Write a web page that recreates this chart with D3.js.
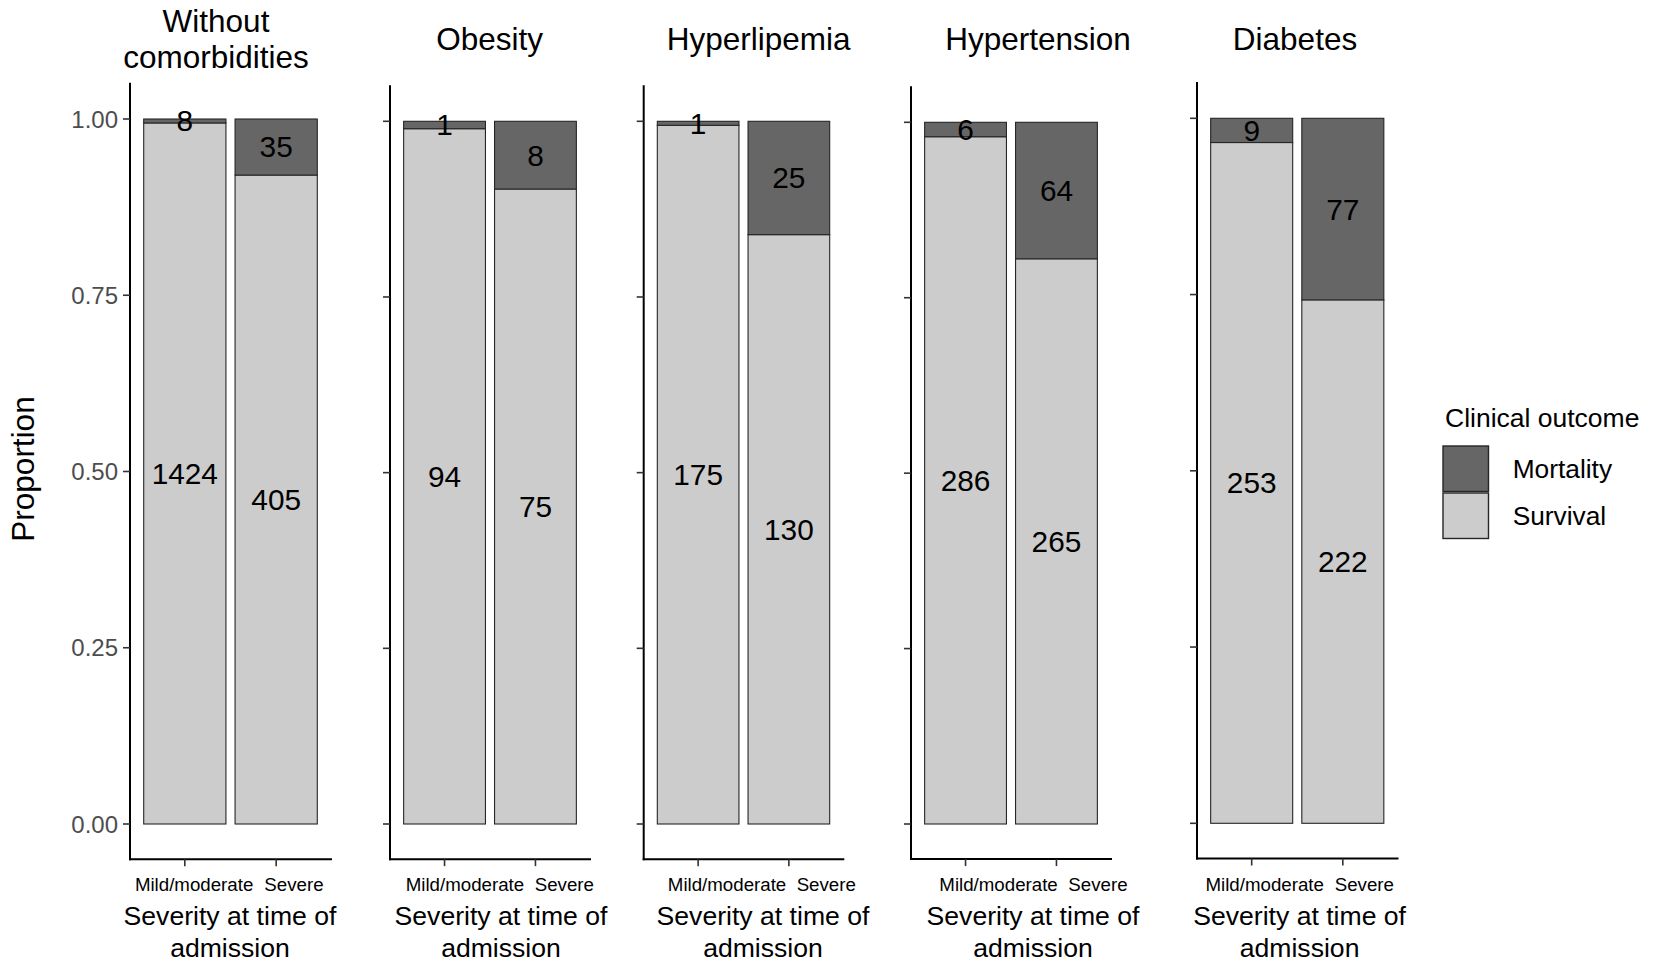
<!DOCTYPE html>
<html>
<head>
<meta charset="utf-8">
<script src="https://cdn.jsdelivr.net/npm/d3@7"></script>
<style>
  html, body { margin: 0; padding: 0; background: #fff; }
  svg { display: block; font-family: "Liberation Sans", Arial, Helvetica, sans-serif; }
</style>
</head>
<body>
<svg id="chart" width="1656" height="962"></svg>
<script>
// ---- data ----
const panelTitles = ["Without\ncomorbidities", "Obesity", "Hyperlipemia", "Hypertension", "Diabetes"];
const severity = ["Mild/moderate", "Severe"];
const outcomes = ["Mortality", "Survival"];
// counts per panel, in severity order
const mortality = [[8, 35], [1, 8], [1, 25], [6, 64], [9, 77]];
const survival = [[1424, 405], [94, 75], [175, 130], [286, 265], [253, 222]];
const yTicks = [0, 0.25, 0.5, 0.75, 1];
const yTickLabels = ["0.00", "0.25", "0.50", "0.75", "1.00"];
const xTitle = "Severity at time of\nadmission";
const yTitle = "Proportion";
const legendTitle = "Clinical outcome";

// ---- layout (pixels) ----
const panelLeft   = [130, 390, 643.7, 911, 1197];
const panelRight  = [331, 590, 843.3, 1111, 1397.5];
const panelZeroY  = [824, 824, 824, 824, 823.3];
const panelOneY   = [119, 121.3, 121.3, 122.3, 118.3];
const titleX      = [216, 489.6, 758.7, 1038, 1295];
const xTitleX     = [230, 501, 763, 1033, 1299.6];
const tickLabelShift = [9.3, 20.4, 28.9, 33, 13];
const colors = { Mortality: "#666666", Survival: "#CCCCCC" };

const svg = d3.select("#chart");

panelTitles.forEach((title, p) => {
  const g = svg.append("g");
  const x = d3.scaleBand().domain(severity)
    .range([panelLeft[p], panelRight[p]])
    .paddingInner(0.1).paddingOuter(0.15);
  const y = d3.scaleLinear().domain([0, 1]).range([panelZeroY[p], panelOneY[p]]);

  const rows = severity.map((s, i) => ({ severity: s, Mortality: mortality[p][i], Survival: survival[p][i] }));
  const series = d3.stack().keys(["Survival", "Mortality"]).offset(d3.stackOffsetExpand)(rows);

  // stacked bars
  series.forEach(layer => {
    g.append("g").selectAll("rect").data(layer).join("rect")
      .attr("x", d => x(d.data.severity))
      .attr("width", x.bandwidth())
      .attr("y", d => y(d[1]))
      .attr("height", d => y(d[0]) - y(d[1]))
      .attr("fill", colors[layer.key])
      .attr("stroke", "#262626")
      .attr("stroke-width", 1.1);
  });

  // count labels centred in each segment
  series.forEach(layer => {
    g.append("g").selectAll("text").data(layer).join("text")
      .attr("x", d => x(d.data.severity) + x.bandwidth() / 2)
      .attr("y", d => y((d[0] + d[1]) / 2))
      .attr("dy", "0.35em")
      .attr("text-anchor", "middle")
      .attr("font-size", 29.8)
      .attr("fill", "#000")
      .text(d => d.data[layer.key]);
  });

  // y axis
  const yTop = y(1.05), yBot = y(-0.05);
  g.append("line")
    .attr("x1", panelLeft[p]).attr("x2", panelLeft[p])
    .attr("y1", yTop).attr("y2", yBot)
    .attr("stroke", "#000").attr("stroke-width", 2).attr("stroke-linecap", "square");
  g.append("g").selectAll("line").data(yTicks).join("line")
    .attr("x1", panelLeft[p] - 7).attr("x2", panelLeft[p])
    .attr("y1", d => y(d)).attr("y2", d => y(d))
    .attr("stroke", "#333").attr("stroke-width", 1.6);
  if (p === 0) {
    g.append("g").selectAll("text").data(yTicks).join("text")
      .attr("x", panelLeft[p] - 12)
      .attr("y", d => y(d))
      .attr("dy", "0.36em")
      .attr("text-anchor", "end")
      .attr("font-size", 24)
      .attr("fill", "#4D4D4D")
      .text((d, i) => yTickLabels[i]);
  }

  // x axis
  g.append("line")
    .attr("x1", panelLeft[p]).attr("x2", panelRight[p])
    .attr("y1", yBot).attr("y2", yBot)
    .attr("stroke", "#000").attr("stroke-width", 2).attr("stroke-linecap", "square");
  g.append("g").selectAll("line").data(severity).join("line")
    .attr("x1", d => x(d) + x.bandwidth() / 2).attr("x2", d => x(d) + x.bandwidth() / 2)
    .attr("y1", yBot).attr("y2", yBot + 7)
    .attr("stroke", "#333").attr("stroke-width", 1.6);
  g.append("g").selectAll("text").data(severity).join("text")
    .attr("x", (d, i) => x(d) + x.bandwidth() / 2 + tickLabelShift[p] + i * 8.5)
    .attr("y", 890.7)
    .attr("text-anchor", "middle")
    .attr("font-size", 18.7)
    .attr("fill", "#000")
    .text(d => d);

  // x axis title
  xTitle.split("\n").forEach((line, i) => {
    g.append("text")
      .attr("x", xTitleX[p]).attr("y", 925 + i * 31.5)
      .attr("text-anchor", "middle")
      .attr("font-size", 26.6)
      .attr("fill", "#000")
      .text(line);
  });

  // panel title
  const lines = title.split("\n");
  lines.forEach((line, i) => {
    g.append("text")
      .attr("x", titleX[p])
      .attr("y", 50 + (i - (lines.length - 1) / 2) * 36.6)
      .attr("text-anchor", "middle")
      .attr("font-size", 31.5)
      .attr("fill", "#000")
      .text(line);
  });
});

// y axis title
svg.append("text")
  .attr("transform", "translate(34,469) rotate(-90)")
  .attr("text-anchor", "middle")
  .attr("font-size", 31.5)
  .attr("fill", "#000")
  .text(yTitle);

// legend
const legend = svg.append("g");
legend.append("text")
  .attr("x", 1445).attr("y", 426.7)
  .attr("font-size", 26.5).attr("fill", "#000")
  .text(legendTitle);
outcomes.forEach((o, i) => {
  legend.append("rect")
    .attr("x", 1443).attr("y", 446 + i * 47)
    .attr("width", 45.5).attr("height", 45.5)
    .attr("fill", colors[o])
    .attr("stroke", "#262626").attr("stroke-width", 1.4);
  legend.append("text")
    .attr("x", 1512.7).attr("y", 446 + i * 47 + 22.75)
    .attr("dy", "0.36em")
    .attr("font-size", 26.3).attr("fill", "#000")
    .text(o);
});
</script>
</body>
</html>
